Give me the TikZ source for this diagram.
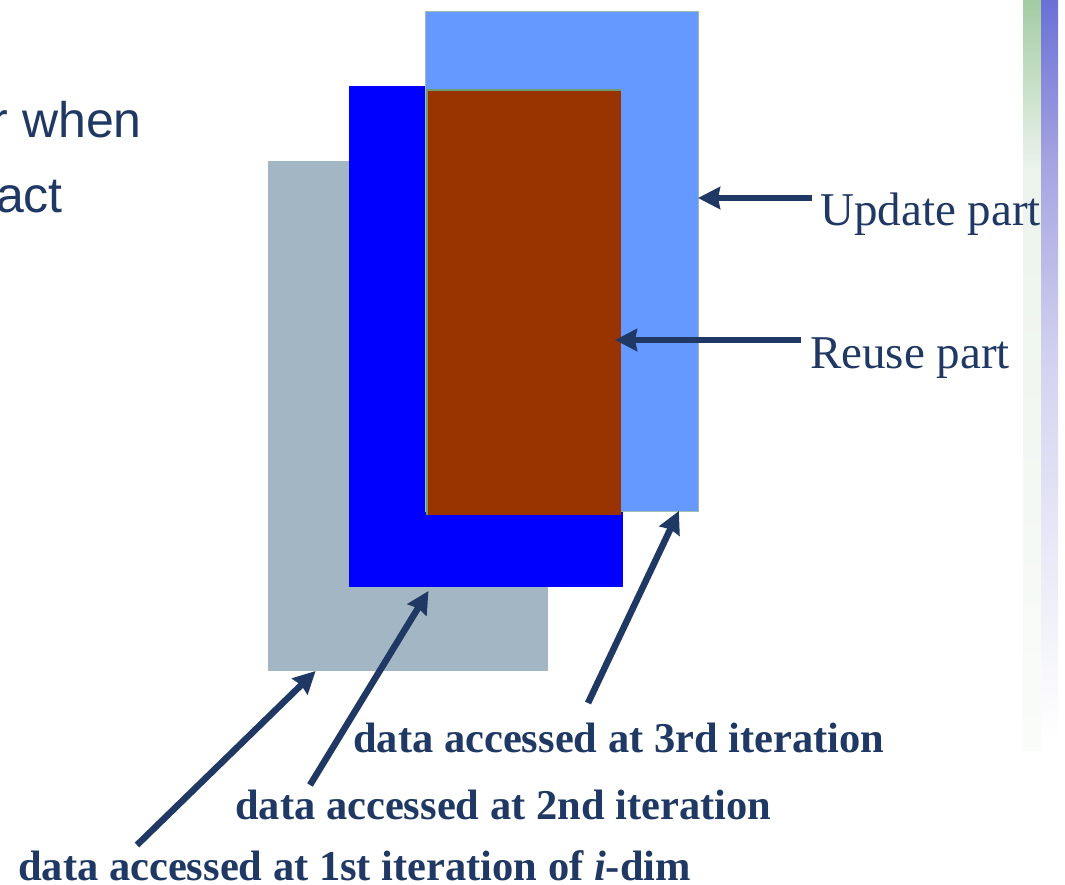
\documentclass[tikz,border=0pt]{standalone}
\usepackage{fontspec}
\setmainfont{Liberation Serif}
\newfontfamily\slidesans{Liberation Sans}
\usetikzlibrary{arrows.meta,calc}

\definecolor{navy}{HTML}{1F3864}
\definecolor{grayblock}{HTML}{A2B6C3}
\definecolor{blueblock}{HTML}{0000FF}
\definecolor{lightblock}{HTML}{6699FF}
\definecolor{brownblock}{HTML}{993300}
\definecolor{edgegreen}{HTML}{6E9C72}
\definecolor{edgelight}{HTML}{9CBDB2}

\tikzset{
  block/.style={rectangle, anchor=north west, inner sep=0pt, outer sep=0pt},
  arr/.style={draw=navy, line width=6.5pt,
    -{Stealth[length=22pt, width=22pt, inset=2pt]}},
  plainlabel/.style={text=navy, inner sep=0pt, font=\fontsize{47}{56}\selectfont},
  boldlabel/.style={text=navy, inner sep=0pt, anchor=base west,
    font=\fontsize{42.5}{51}\selectfont\bfseries},
  sidetext/.style={text=navy, inner sep=0pt, anchor=base east,
    font=\slidesans\fontsize{50}{60}\selectfont},
}

\begin{document}
\begin{tikzpicture}[x=1pt, y=-1pt]
\useasboundingbox (0,0) rectangle (1065,884);
\clip (0,0) rectangle (1065,884);

% decorative strips at the right edge
\shade[top color={rgb,255:red,163;green,204;blue,163}, bottom color={rgb,255:red,236;green,243;blue,236}]
  (1023,0) rectangle (1041,170);
\shade[top color={rgb,255:red,236;green,243;blue,236}, bottom color={rgb,255:red,250;green,252;blue,250}]
  (1023,170) rectangle (1041,750);
\shade[top color={rgb,255:red,107;green,112;blue,214}, bottom color={rgb,255:red,168;green,166;blue,225}]
  (1041,0) rectangle (1058,170);
\shade[top color={rgb,255:red,168;green,166;blue,225}, bottom color={rgb,255:red,212;green,212;blue,240}]
  (1041,170) rectangle (1058,370);
\shade[top color={rgb,255:red,212;green,212;blue,240}, bottom color=white]
  (1041,370) rectangle (1058,740);

% left-hand text, cut by the page edge
\node[sidetext] (w1) at (142,137) {r when};
\node[sidetext] (w2) at (63,212) {act};

% the four data blocks, back to front
\node[block, fill=grayblock, minimum width=280pt, minimum height=510pt] (gray) at (268,161) {};
\node[block, fill=blueblock, minimum width=274pt, minimum height=501pt] (blue) at (349,86) {};
\node[block, fill=lightblock, draw=edgelight, line width=1pt, minimum width=273pt, minimum height=500pt] (light) at (425,11) {};
\node[block, fill=brownblock, minimum width=194pt, minimum height=425pt] (brown) at (427,90) {};
\draw[edgegreen, line width=2pt] (brown.south west) -- (brown.north west) -- (brown.north east);

% labels
\node[plainlabel, anchor=base west] (upd) at (820,225) {Update part};
\node[plainlabel, anchor=base west] (reu) at (810,368) {Reuse part};
\node[boldlabel] (it3) at (353,752) {data accessed at 3rd iteration};
\node[boldlabel] (it2) at (235,819) {data accessed at 2nd iteration};
\node[boldlabel] (it1) at (18,880) {data accessed at 1st iteration of \textit{i}-dim};

% arrow tails
\coordinate (updtail) at (812,198);
\coordinate (reutail) at (801,340);
\coordinate (tail3) at (588,703);
\coordinate (tail2) at (310,785);
\coordinate (tail1) at (137,845);

% arrows
\draw[arr] (updtail) -- (light.east |- updtail);
\draw[arr] (reutail) -- ($(brown.east |- reutail) + (-6,0)$);
\draw[arr] (tail3) -- ($(light.south west)!0.93!(light.south east)$);
\draw[arr] (tail2) -- ($(blue.south west)!0.29!(blue.south east) + (0,4)$);
\draw[arr] (tail1) -- ($(gray.south west)!0.17!(gray.south east)$);
\end{tikzpicture}
\end{document}
